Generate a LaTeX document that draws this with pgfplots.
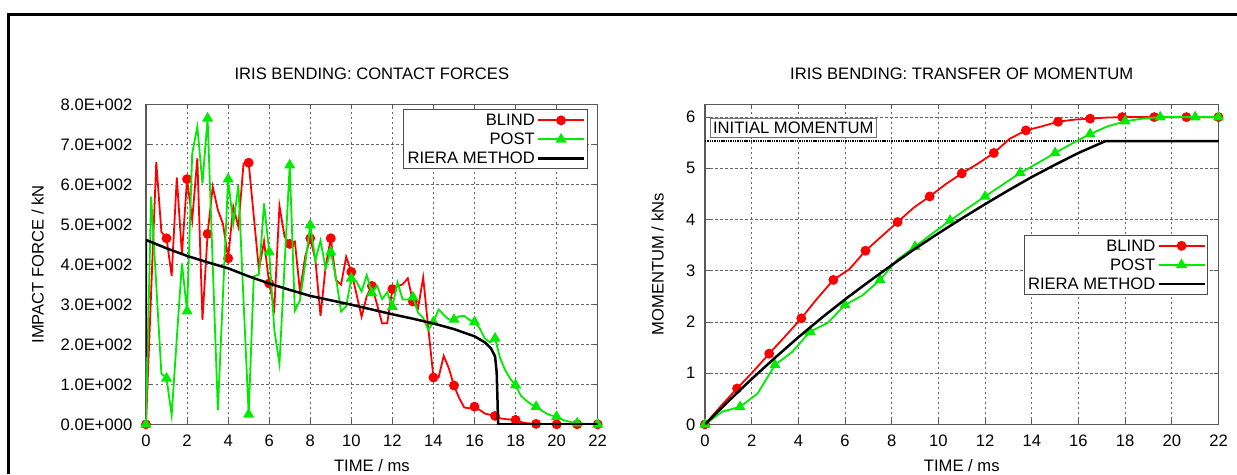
\documentclass[border=0pt]{standalone}
\usepackage{fontspec}
\setmainfont{Liberation Sans}
\usepackage{pgfplots}
\pgfplotsset{compat=1.18}
\definecolor{gpred}{RGB}{255,0,0}
\definecolor{gpgreen}{RGB}{0,235,0}
\pgfplotsset{
  gpaxis/.style={
    scale only axis,
    xmin=0, xmax=22, xtick={0,2,...,22},
    grid=major,
    major grid style={black!60, line width=0.7pt, dash pattern=on 2.5pt off 2.5pt},
    axis line style={black!65, line width=1.2pt},
    tick style={black!65, line width=0.8pt},
    tick align=inside, major tick length=5pt,
    /pgf/number format/assume math mode=true,
    xticklabel style={anchor=base, yshift=-22.4pt},
    title style={at={(axis description cs:0.5,1)}, anchor=base, yshift=19pt},
    xlabel style={at={(axis description cs:0.5,0)}, anchor=base, yshift=-47.4pt},
    clip mode=individual,
    legend cell align=right,
    legend plot pos=right,
    legend style={draw=black!70, line width=0.9pt, inner sep=2pt, row sep=2pt,
      nodes={inner sep=2pt, text height=12pt, text depth=1pt}},
    legend image code/.code={
      \draw[mark repeat=2,mark phase=2] plot coordinates {(0pt,0pt) (23pt,0pt) (46pt,0pt)};
    },
  },
  blind/.style={gpred, line width=1.8pt, mark=*, mark size=4pt, mark options={solid}},
  post/.style={gpgreen, line width=1.8pt, mark=triangle*, mark size=4.6pt, mark options={solid}},
  riera/.style={black, line width=2.5pt, no marks},
}
\begin{document}
\fontsize{16.6}{19}\selectfont
\begin{tikzpicture}
\useasboundingbox (0,0) rectangle (1237pt,474pt);
\draw[line width=3pt, black] (8pt,0pt) -- (8pt,459.8pt) -- (1237pt,459.8pt);

\begin{axis}[gpaxis,
  at={(146pt,49.7pt)}, anchor=south west,
  width=451.7pt, height=320pt,
  ymin=0, ymax=800, ytick={0,100,...,800},
  yticklabels={0.0E+000,1.0E+002,2.0E+002,3.0E+002,4.0E+002,5.0E+002,6.0E+002,7.0E+002,8.0E+002},
  yticklabel style={anchor=east, xshift=-8pt},
  ylabel style={at={(axis description cs:-0.2269,0.5)}, anchor=base, rotate=0},
  title={IRIS BENDING: CONTACT FORCES},
  xlabel={TIME / ms},
  ylabel={IMPACT FORCE / kN},
  legend style={at={(0.978,0.984)}, anchor=north east},
]
\addplot[blind, mark repeat=4, mark phase=1] coordinates {
(0,0)(0.25,330)(0.5,656)(0.75,481)(1,465)(1.25,371)(1.5,617)(1.75,425)(2,613)(2.25,511)(2.5,665)(2.75,261)(3,476)(3.25,594)(3.5,536)(3.75,501)(4,415)(4.25,544)(4.5,494)(4.75,652)(5,654)(5.25,520)(5.5,386)(5.75,458)(6,352)(6.25,290)(6.5,546)(6.75,469)(7,451)(7.25,457)(7.5,332)(7.75,418)(8,465)(8.25,411)(8.5,271)(8.75,395)(9,465)(9.25,361)(9.5,349)(9.75,419)(10,381)(10.25,326)(10.5,269)(10.75,320)(11,346)(11.25,300)(11.5,252)(11.75,253)(12,338)(12.25,345)(12.5,350)(12.75,365)(13,307)(13.25,290)(13.5,367)(13.75,240)(14,117)(14.25,117)(14.5,171)(14.75,140)(15,97)(15.25,66)(15.5,42)(15.75,40)(16,44)(16.25,36)(16.5,27)(16.75,24)(17,21)(17.25,15)(17.5,13)(17.75,12)(18,11)(18.25,6)(18.5,3)(18.75,2)(19,1)(19.25,0)(19.5,0)(19.75,0)(20,0)(20.25,0)(20.5,0)(20.75,0)(21,0)(21.25,0)(21.5,0)(21.75,0)(22,0)
};
\addlegendentry{BLIND}
\addplot[post, mark repeat=4, mark phase=1] coordinates {
(0,0)(0.25,569)(0.5,348)(0.75,127)(1,115)(1.25,23)(1.5,215)(1.75,402)(2,283)(2.25,677)(2.5,744)(2.75,602)(3,765)(3.25,400)(3.5,36)(3.75,325)(4,613)(4.25,500)(4.5,598)(4.75,310)(5,25)(5.25,370)(5.5,375)(5.75,552)(6,431)(6.25,236)(6.5,151)(6.75,400)(7,648)(7.25,284)(7.5,310)(7.75,400)(8,498)(8.25,410)(8.5,459)(8.75,390)(9,431)(9.25,367)(9.5,282)(9.75,295)(10,365)(10.25,357)(10.5,332)(10.75,373)(11,328)(11.25,347)(11.5,313)(11.75,330)(12,294)(12.25,355)(12.5,312)(12.75,312)(13,318)(13.25,279)(13.5,266)(13.75,236)(14,256)(14.25,287)(14.5,274)(14.75,262)(15,262)(15.25,270)(15.5,271)(15.75,261)(16,256)(16.25,240)(16.5,215)(16.75,205)(17,215)(17.25,165)(17.5,135)(17.75,113)(18,98)(18.25,72)(18.5,60)(18.75,50)(19,44)(19.25,35)(19.5,27)(19.75,22)(20,19)(20.25,12)(20.5,8)(20.75,5)(21,3)(21.25,2)(21.5,1)(21.75,0)(22,0)
};
\addlegendentry{POST}
\addplot[riera] coordinates {
(0,169)(0,461)(1,440)(2,421)(3,405)(4,390)(5,370)(6,352)(7,336)(8,321)(9,310)(10,299)(11,287)(12,275)(13,264)(14,252)(15,238)(16,220)(16.5,205)(16.8,190)(17.0,170)(17.08,130)(17.12,60)(17.15,0)(22,0)
};
\addlegendentry{RIERA METHOD}
\end{axis}

\begin{axis}[gpaxis,
  at={(705pt,49.7pt)}, anchor=south west,
  width=513.5pt, height=320pt,
  ymin=0, ymax=6.25, ytick={0,1,...,6},
  yticklabel style={anchor=east, xshift=-4pt},
  ylabel style={at={(axis description cs:-0.0804,0.5)}, anchor=base, rotate=0},
  title={IRIS BENDING: TRANSFER OF MOMENTUM},
  xlabel={TIME / ms},
  ylabel={MOMENTUM / kNs},
  legend style={at={(0.980,0.592)}, anchor=north east},
]
\addplot[black, line width=2.2pt, dash pattern=on 1.4pt off 0.9pt, forget plot] coordinates {(0,5.53)(22,5.53)};
\node[draw=black!55, line width=0.8pt, anchor=west, inner sep=3pt, text height=12pt, text depth=1pt, fill=white] at (axis cs:0.2,5.79) {INITIAL MOMENTUM};
\addplot[blind, mark repeat=2, mark phase=1] coordinates {
(0,0)(0.6875,0.36)(1.375,0.70)(2.0625,1.03)(2.75,1.38)(3.4375,1.72)(4.125,2.07)(4.8125,2.46)(5.5,2.82)(6.1875,3.03)(6.875,3.39)(7.5625,3.67)(8.25,3.95)(8.9375,4.23)(9.625,4.45)(10.3125,4.69)(11,4.90)(11.6875,5.09)(12.375,5.30)(13.0625,5.58)(13.75,5.74)(14.4375,5.82)(15.125,5.91)(15.8125,5.95)(16.5,5.97)(17.1875,5.99)(17.875,6.0)(18.5625,6.0)(19.25,6.0)(19.9375,6.0)(20.625,6.0)(21.3125,6.0)(22,6.0)
};
\addlegendentry{BLIND}
\addplot[post, mark repeat=2, mark phase=1] coordinates {
(0,0)(0.75,0.25)(1.5,0.34)(2.25,0.60)(3,1.16)(3.75,1.42)(4.5,1.81)(5.25,1.98)(6,2.33)(6.75,2.52)(7.5,2.82)(8.25,3.22)(9,3.47)(9.75,3.73)(10.5,3.98)(11.25,4.22)(12,4.45)(12.75,4.68)(13.5,4.91)(14.25,5.10)(15,5.30)(15.75,5.49)(16.5,5.67)(17.25,5.82)(18,5.92)(18.75,5.97)(19.5,6.0)(20.25,6.0)(21,6.0)(21.75,6.0)(22,6.0)
};
\addlegendentry{POST}
\addplot[riera] coordinates {
(0,0)(1,0.45)(2,0.885)(3,1.30)(4,1.70)(5,2.08)(6,2.44)(7,2.78)(8,3.11)(9,3.43)(10,3.73)(11,4.02)(12,4.30)(13,4.57)(14,4.83)(15,5.07)(16,5.30)(17.15,5.53)(22,5.53)
};
\addlegendentry{RIERA METHOD}
\end{axis}
\end{tikzpicture}
\end{document}
